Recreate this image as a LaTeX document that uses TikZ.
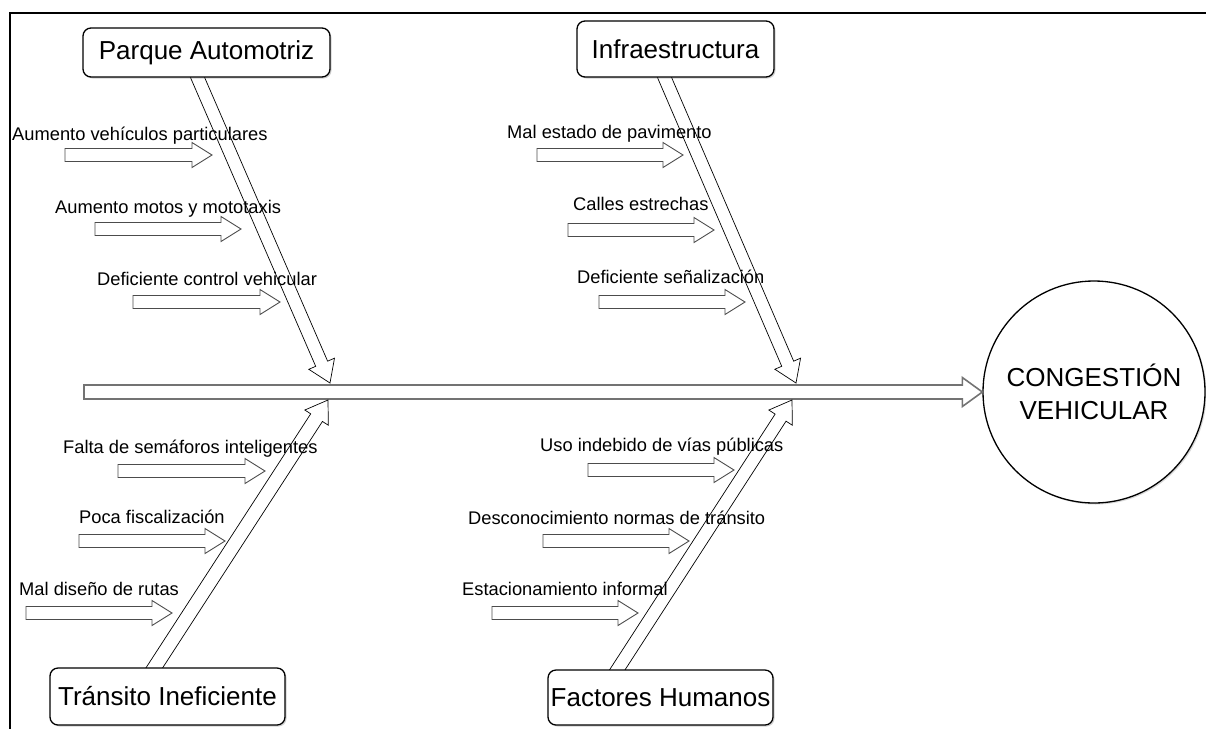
\documentclass[tikz,border=0pt]{standalone}
\usepackage{fontspec}
\setmainfont{Liberation Sans}
\usetikzlibrary{calc,shadows}
% fat hollow arrow: [style]{from}{to}{body half width}{head half width}{head length}
\newcommand\fatarr[6][]{%
  \coordinate (fa-h) at ($(#3)!#6!(#2)$);
  \draw[#1] ($(#2)!#4!90:(#3)$) -- ($(fa-h)!#4!-90:(#2)$) -- ($(fa-h)!#5!-90:(#2)$) -- (#3)
    -- ($(fa-h)!#5!90:(#2)$) -- ($(fa-h)!#4!90:(#2)$) -- ($(#2)!#4!-90:(#3)$) -- cycle;}
\tikzset{
  cat/.style={draw, line width=1.3pt, rounded corners=8pt, fill=white, inner sep=0pt,
    font=\fontsize{26}{31}\selectfont,
    drop shadow={shadow xshift=1.5pt, shadow yshift=-1.5pt, opacity=0.3, fill=black!60}},
  lbl/.style={anchor=base west, inner sep=0pt, font=\fontsize{18.3}{22}\selectfont},
  smallarr/.style={draw=black!70, line width=0.9pt, line join=miter},
  diagarr/.style={draw=black, line width=0.7pt},
  spinearr/.style={draw=black!55, line width=1.6pt},
  effect/.style={circle, draw, line width=1.3pt, minimum size=222pt, inner sep=0pt,
    align=center, font=\fontsize{26}{33}\selectfont, fill=white,
    drop shadow={shadow xshift=1.5pt, shadow yshift=-1.5pt, opacity=0.25, fill=black!60}},
  frame/.style={draw=black, line width=1.8pt}
}
\begin{document}
\begin{tikzpicture}[x=1pt, y=-1pt]
\useasboundingbox (0,0) rectangle (1206,729);
% frame
\draw[frame] (1206,13) -- (10,13) -- (10,729);

% effect
\node[effect] (cg) at (1094,392) {CONGESTIÓN\\VEHICULAR};

% spine
\coordinate (sp) at (84,392);
\fatarr[spinearr]{sp}{cg.west}{7pt}{14.5pt}{20pt}

% small cause arrows
\coordinate (a11s) at (65,155);  \coordinate (a11e) at (212,155);
\coordinate (a12s) at (95,229);  \coordinate (a12e) at (241,229);
\coordinate (a13s) at (133,302); \coordinate (a13e) at (280,302);
\coordinate (a21s) at (537,155); \coordinate (a21e) at (683,155);
\coordinate (a22s) at (568,230); \coordinate (a22e) at (714,230);
\coordinate (a23s) at (599,302); \coordinate (a23e) at (745,302);
\coordinate (a31s) at (118,471); \coordinate (a31e) at (265,471);
\coordinate (a32s) at (79,541);  \coordinate (a32e) at (225,541);
\coordinate (a33s) at (26,613);  \coordinate (a33e) at (172,613);
\coordinate (a41s) at (588,470); \coordinate (a41e) at (734,470);
\coordinate (a42s) at (543,541); \coordinate (a42e) at (689,541);
\coordinate (a43s) at (492,613); \coordinate (a43e) at (638,613);
\foreach \i in {11,12,13,21,22,23,31,32,33,41,42,43}{
  \fatarr[smallarr]{a\i s}{a\i e}{6.5pt}{12.5pt}{20pt}
}

% diagonal branch arrows (start hidden under the boxes)
\coordinate (d1s) at (193,67);  \coordinate (d1e) at (330,383);
\coordinate (d2s) at (660,67);  \coordinate (d2e) at (796,383);
\coordinate (d3s) at (149,676); \coordinate (d3e) at (328,400);
\coordinate (d4s) at (612,678); \coordinate (d4e) at (792,400);
\fatarr[diagarr]{d1s}{d1e}{6.5pt}{14pt}{21pt}
\fatarr[diagarr]{d2s}{d2e}{6.5pt}{14pt}{21pt}
\fatarr[diagarr]{d3s}{d3e}{7pt}{14pt}{21pt}
\fatarr[diagarr]{d4s}{d4e}{6.5pt}{14pt}{21pt}

% category boxes
\node[cat, minimum width=247pt, minimum height=49pt] (pa) at (206.5,52.5) {Parque Automotriz};
\node[cat, minimum width=197pt, minimum height=56pt] (in) at (675.5,49) {Infraestructura};
\node[cat, minimum width=235pt, minimum height=57pt] (ti) at (167.5,696.5) {Tránsito Ineficiente};
\node[cat, minimum width=225pt, minimum height=55pt] (fh) at (660.5,697.5) {Factores Humanos};

% labels
\node[lbl] (t11) at (12,140) {Aumento vehículos particulares};
\node[lbl] (t12) at (55,213) {Aumento motos y mototaxis};
\node[lbl] (t13) at (97,285) {Deficiente control vehicular};
\node[lbl] (t21) at (507,138) {Mal estado de pavimento};
\node[lbl] (t22) at (573,210) {Calles estrechas};
\node[lbl] (t23) at (577,283) {Deficiente señalización};
\node[lbl] (t31) at (63,453) {Falta de semáforos inteligentes};
\node[lbl] (t32) at (79,523) {Poca fiscalización};
\node[lbl] (t33) at (19,595) {Mal diseño de rutas};
\node[lbl] (t41) at (540,451) {Uso indebido de vías públicas};
\node[lbl] (t42) at (468,524) {Desconocimiento normas de tránsito};
\node[lbl] (t43) at (462,595) {Estacionamiento informal};
\end{tikzpicture}
\end{document}
